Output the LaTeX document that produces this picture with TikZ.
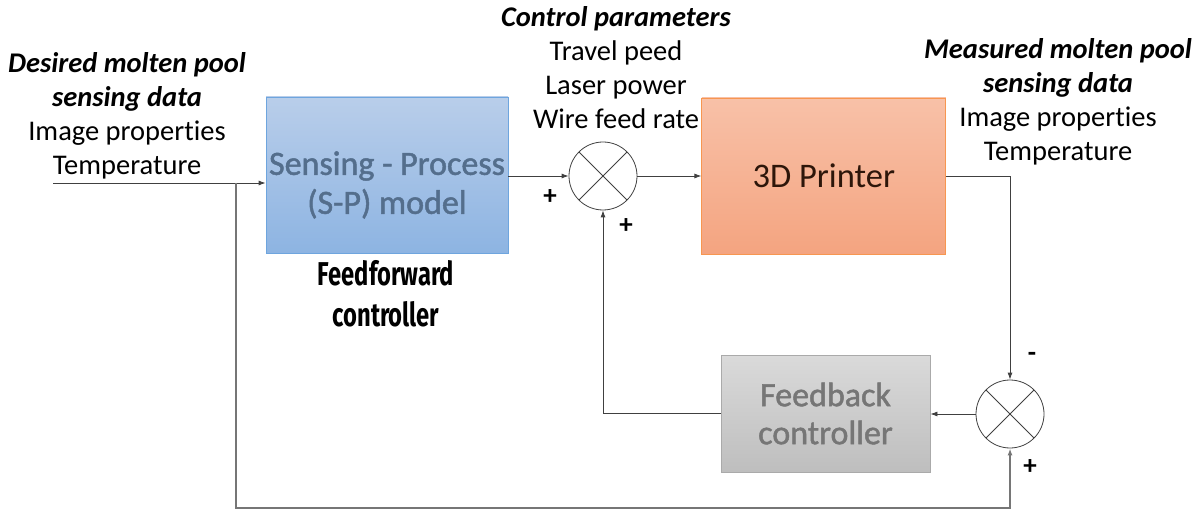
\documentclass[tikz,border=0pt]{standalone}
\usepackage{fontspec}
\setmainfont{Carlito}[Ligatures=NoCommon]
\newfontfamily\embfont[FakeBold=1.4, Ligatures=NoCommon]{Carlito}
\newfontfamily\condfont[FakeStretch=0.72]{Fira Sans}
\usetikzlibrary{arrows.meta,positioning,calc}
\definecolor{linegray}{RGB}{64,64,64}
\definecolor{loopgray}{RGB}{118,118,118}
\definecolor{spTop}{RGB}{185,206,234}
\definecolor{spBot}{RGB}{141,180,226}
\definecolor{spEdge}{RGB}{110,165,222}
\definecolor{spText}{RGB}{84,110,140}
\definecolor{prTop}{RGB}{248,193,168}
\definecolor{prBot}{RGB}{244,164,128}
\definecolor{prEdge}{RGB}{247,150,80}
\definecolor{prText}{RGB}{45,22,10}
\definecolor{fbTop}{RGB}{218,218,218}
\definecolor{fbBot}{RGB}{190,190,190}
\definecolor{fbEdge}{RGB}{170,170,170}
\definecolor{fbText}{RGB}{118,118,118}
\tikzset{
  block/.style={draw, line width=0.8pt, inner sep=0pt, align=center},
  sumjunc/.style={circle, draw=linegray, line width=0.8pt, minimum size=68pt, inner sep=0pt,
    path picture={\draw[linegray, line width=0.8pt]
      (path picture bounding box.north west) -- (path picture bounding box.south east)
      (path picture bounding box.north east) -- (path picture bounding box.south west);}},
  arrow/.style={-{Latex[length=7pt,width=5pt]}, line width=0.8pt, draw=linegray},
  looparrow/.style={-{Latex[length=7pt,width=5pt]}, line width=1.6pt, draw=loopgray},
  caption/.style={align=center, inner sep=0pt, anchor=north, font=\fontsize{28.5}{34}\selectfont},
  sign/.style={font=\bfseries\fontsize{27}{27}\selectfont, inner sep=0pt},
}

\begin{document}
\begin{tikzpicture}[x=1pt, y=-1pt]
  \useasboundingbox (0,0) rectangle (1201,510);

  % forward path
  \node[block, draw=spEdge, top color=spTop, bottom color=spBot,
        minimum width=242pt, minimum height=156pt,
        label={[font=\embfont\fontsize{34}{39}\selectfont, text=spText, align=center, yshift=-10pt]center:Sensing - Process\\(S-P) model}]
        (sp) at (387,175) {};
  \node[sumjunc] (sumA) at (603,176) {};
  \node[block, draw=prEdge, top color=prTop, bottom color=prBot, text=prText,
        minimum width=244pt, minimum height=156pt, font=\fontsize{34.5}{39}\selectfont,
        right=64pt of sumA] (printer) {3D Printer};

  % feedback path
  \node[sumjunc] (sumB) at (1010,414) {};
  \node[block, draw=fbEdge, top color=fbTop, bottom color=fbBot, text=fbText,
        minimum width=209pt, minimum height=117pt, font=\embfont\fontsize{34}{38}\selectfont]
        (fb) at (825.5,413.5) {Feedback\\controller};

  % texts
  \node[caption] (desired) at (127,52)
    {\textbf{\textit{Desired molten pool}}\\\textbf{\textit{sensing data}}\\Image properties\\Temperature};
  \node[caption] (ctrl) at (616,6)
    {\textbf{\textit{Control parameters}}\\Travel peed\\Laser power\\Wire feed rate};
  \node[caption] (measured) at (1058,38)
    {\textbf{\textit{Measured molten pool}}\\\textbf{\textit{sensing data}}\\Image properties\\Temperature};
  \node[caption, font=\condfont\bfseries\fontsize{33}{41}\selectfont] (ffwd) at (386,260)
    {Feedforward\\controller};

  % signs at the junctions
  \node[sign] (plusA) at (550,197) {+};
  \node[sign] (plusB) at (626,226) {+};
  \node[sign] (minusC) at (1032,357) {-};
  \node[sign] (plusD) at (1030,467) {+};

  % connectors
  \coordinate (inp) at (53,183);
  \coordinate (tap) at (236,183);
  \coordinate (low) at (236,508);
  \draw[arrow] (inp) -- (inp -| sp.west);
  \draw[arrow] (sp.east |- sumA.west) -- (sumA.west);
  \draw[arrow] (sumA.east) -- (sumA.east -| printer.west);
  \draw[arrow] (printer.east) -| (sumB.north);
  \draw[arrow] (sumB.west) -- (sumB.west -| fb.east);
  \draw[arrow] (fb.west) -| (sumA.south);
  \draw[looparrow] (tap) -- (low) -| (sumB.south);
\end{tikzpicture}
\end{document}
